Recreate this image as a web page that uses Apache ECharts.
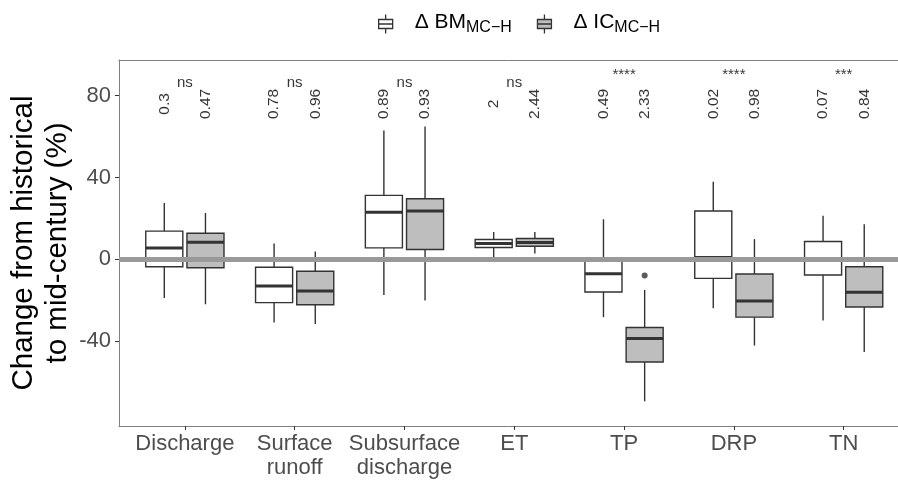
<!DOCTYPE html>
<html>
<head>
<meta charset="utf-8">
<script src="https://cdn.jsdelivr.net/npm/echarts@6/dist/echarts.min.js"></script>
<style>
  html, body { margin: 0; padding: 0; background: #fff; overflow: hidden; }
  #chart { width: 898px; height: 483px; }
</style>
</head>
<body>
<div id="chart"></div>
<script>
// categories on the x axis
var categories = ['Discharge', 'Surface\nrunoff', 'Subsurface\ndischarge', 'ET', 'TP', 'DRP', 'TN'];
// box stats per category: [min, q1, median, q3, max]
var bmStats = [
    [-19, -3.7, 5.5, 13.7, 27.5],
    [-31, -21.3, -13.2, -4, 7.7],
    [-17.6, 5.5, 22.9, 31.2, 63],
    [1, 5.7, 7.7, 9.6, 13.3],
    [-28.4, -16.1, -7.2, -1, 19.5],
    [-24, -9.4, 0.8, 23.6, 37.9],
    [-30.1, -7.8, -0.6, 8.6, 21.3]
];
var icStats = [
    [-22.1, -4.2, 8.3, 12.7, 22.6],
    [-31.7, -22.3, -15.6, -5.9, 3.7],
    [-20.3, 4.7, 23.6, 29.6, 65],
    [2.8, 6.3, 8.1, 10.1, 13.3],
    [-69.6, -50.4, -38.9, -33.5, -15.1],
    [-42.3, -28.4, -20.5, -7.3, 9.8],
    [-45.5, -23.4, -16.2, -3.7, 17.1]
];
// outliers: [category index, value]
var icOutliers = [[4, -8]];
// labels above boxes
var bmLabels = ['0.3', '0.78', '0.89', '2', '0.49', '0.02', '0.07'];
var icLabels = ['0.47', '0.96', '0.93', '2.44', '2.33', '0.98', '0.84'];
var sigLabels = ['ns', 'ns', 'ns', 'ns', '****', '****', '***'];
var yTicks = [-40, 0, 40, 80];
var xTicks = [0, 1, 2, 3, 4, 5, 6];

var DODGE = 0.1875;   // half of dodge width
var BOX_W = 0.3375;   // box width in category units
var LABEL_Y = 76;     // y of rotated numbers
var SIG_Y = 86.5;     // y of ns
var STAR_Y = 90;      // y of stars
var Y_MIN = -81.7, Y_MAX = 97.5;
var X_MIN = -0.6, X_MAX = 6.495; // panel is cut at the right edge

function boxRender(offset, fill) {
    return function (params, api) {
        var x = api.value(0) + offset;
        var hw = BOX_W / 2;
        var cx = api.coord([x, 0])[0];
        var left = api.coord([x - hw, 0])[0];
        var right = api.coord([x + hw, 0])[0];
        var yMin = api.coord([x, api.value(1)])[1];
        var yQ1 = api.coord([x, api.value(2)])[1];
        var yMed = api.coord([x, api.value(3)])[1];
        var yQ3 = api.coord([x, api.value(4)])[1];
        var yMax = api.coord([x, api.value(5)])[1];
        var line = { stroke: '#333', lineWidth: 1.4 };
        return {
            type: 'group',
            children: [
                { type: 'line', shape: { x1: cx, y1: yMax, x2: cx, y2: yQ3 }, style: line },
                { type: 'line', shape: { x1: cx, y1: yQ1, x2: cx, y2: yMin }, style: line },
                {
                    type: 'rect',
                    shape: { x: left, y: yQ3, width: right - left, height: yQ1 - yQ3 },
                    style: { fill: fill, stroke: '#333', lineWidth: 1.4 }
                },
                { type: 'line', shape: { x1: left, y1: yMed, x2: right, y2: yMed }, style: { stroke: '#333', lineWidth: 3 } }
            ]
        };
    };
}

function boxData(stats) {
    return stats.map(function (s, i) {
        return [i].concat(s);
    });
}

function labelData(labels, offset, yFn) {
    return labels.map(function (t, i) {
        return [i + offset, yFn(t), t];
    });
}

var boxIcon = 'path://M7,0V5M0,5H14V14H0ZM0,9.5H14M7,14V19';
var FONT = 'Liberation Sans, Arial';
var FRAME = '#7f7f7f';

var myChart = echarts.init(document.getElementById('chart'));
myChart.setOption({
    animation: false,
    legend: {
        top: 7,
        left: 373,
        itemWidth: 14,
        itemHeight: 19,
        itemGap: 25,
        data: [
            { name: 'BM', icon: boxIcon, itemStyle: { color: '#fff', borderColor: '#333', borderWidth: 1.3 } },
            { name: 'IC', icon: boxIcon, itemStyle: { color: '#bebebe', borderColor: '#333', borderWidth: 1.3 } }
        ],
        formatter: function (name) {
            return '{d|\u0394 ' + name + '}{s|MC\u2212H}';
        },
        textStyle: {
            rich: {
                d: { fontSize: 21, color: '#000', fontFamily: FONT, padding: [0, 0, 3, 17], verticalAlign: 'bottom' },
                s: { fontSize: 16, color: '#000', fontFamily: FONT, verticalAlign: 'bottom' }
            }
        }
    },
    grid: {
        left: 119,
        right: 0,
        top: 60,
        bottom: 57,
        outerBoundsMode: 'none'
    },
    xAxis: [{
        type: 'value',
        min: X_MIN,
        max: X_MAX,
        splitLine: { show: false },
        axisLine: { show: true, onZero: false, lineStyle: { color: FRAME, width: 1 } },
        axisTick: {
            show: true,
            customValues: xTicks,
            length: 4,
            lineStyle: { color: '#333' }
        },
        axisLabel: {
            customValues: xTicks,
            formatter: function (v) { return categories[Math.round(v)]; },
            fontSize: 22,
            lineHeight: 24,
            color: '#4d4d4d',
            fontFamily: FONT,
            margin: 6
        }
    }, {
        // top border of the panel
        type: 'value',
        position: 'top',
        min: X_MIN,
        max: X_MAX,
        splitLine: { show: false },
        axisLine: { show: true, onZero: false, lineStyle: { color: FRAME, width: 1 } },
        axisTick: { show: false },
        axisLabel: { show: false }
    }],
    yAxis: {
        type: 'value',
        min: Y_MIN,
        max: Y_MAX,
        name: 'Change from historical\nto mid-century (%)',
        nameLocation: 'middle',
        nameGap: 44,
        nameMoveOverlap: false,
        nameTextStyle: { fontSize: 29.5, color: '#000', fontFamily: FONT, lineHeight: 34 },
        splitLine: { show: false },
        axisLine: { show: true, onZero: false, lineStyle: { color: FRAME, width: 1 } },
        axisTick: {
            show: true,
            customValues: yTicks,
            length: 4,
            lineStyle: { color: '#333' }
        },
        axisLabel: {
            customValues: yTicks,
            fontSize: 22,
            color: '#4d4d4d',
            fontFamily: FONT,
            margin: 8
        }
    },
    series: [
        {
            name: 'zero',
            type: 'scatter',
            data: [],
            z: 1,
            markLine: {
                silent: true,
                symbol: 'none',
                label: { show: false },
                lineStyle: { color: '#999', width: 5, type: 'solid' },
                data: [{ yAxis: 0 }]
            }
        },
        {
            name: 'BM',
            type: 'custom',
            z: 2,
            renderItem: boxRender(-DODGE, '#ffffff'),
            encode: { x: 0, y: [1, 2, 3, 4, 5] },
            itemStyle: { color: '#ffffff', borderColor: '#333' },
            data: boxData(bmStats)
        },
        {
            name: 'IC',
            type: 'custom',
            z: 2,
            renderItem: boxRender(DODGE, '#bebebe'),
            encode: { x: 0, y: [1, 2, 3, 4, 5] },
            itemStyle: { color: '#bebebe', borderColor: '#333' },
            data: boxData(icStats)
        },
        {
            name: 'outlier',
            type: 'scatter',
            z: 3,
            symbolSize: 6,
            itemStyle: { color: '#333' },
            data: icOutliers.map(function (o) { return [o[0] + DODGE, o[1]]; })
        },
        {
            name: 'pvals',
            type: 'scatter',
            z: 3,
            symbolSize: 0,
            silent: true,
            label: {
                show: true,
                position: 'inside',
                rotate: 90,
                fontSize: 15.5,
                color: '#000',
                fontFamily: FONT,
                formatter: function (p) { return p.value[2]; }
            },
            data: labelData(bmLabels, -DODGE, function () { return LABEL_Y; })
                .concat(labelData(icLabels, DODGE, function () { return LABEL_Y; }))
        },
        {
            name: 'sig',
            type: 'scatter',
            z: 3,
            symbolSize: 0,
            silent: true,
            label: {
                show: true,
                position: 'inside',
                fontSize: 15,
                color: '#000',
                fontFamily: FONT,
                formatter: function (p) { return p.value[2]; }
            },
            data: labelData(sigLabels, 0, function (t) { return t === 'ns' ? SIG_Y : STAR_Y; })
        }
    ]
});
</script>
</body>
</html>
